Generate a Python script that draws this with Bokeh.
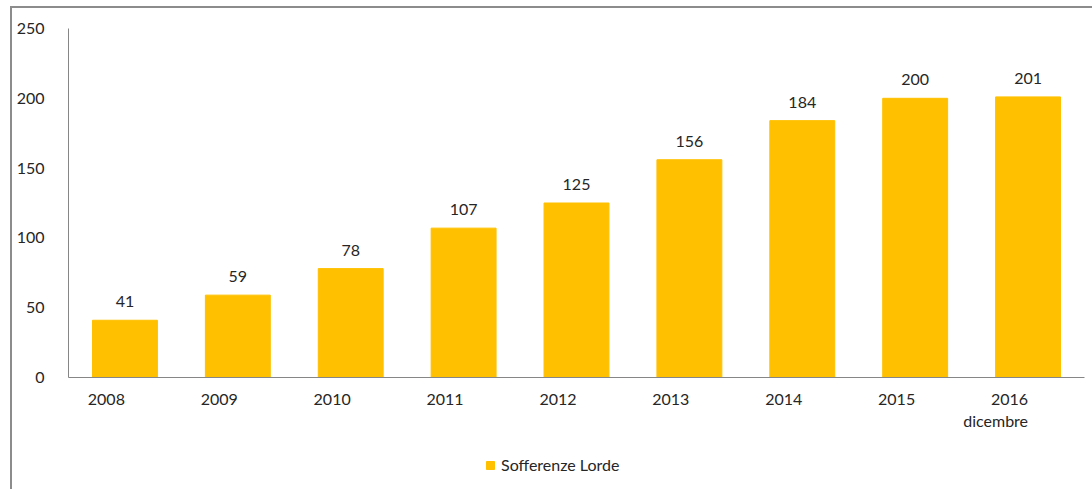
from bokeh.plotting import figure
from bokeh.layouts import column
from bokeh.models import ColumnDataSource, Legend, LegendItem, FixedTicker, Range1d
from bokeh.core.properties import value
from bokeh.embed import file_html
from bokeh.resources import INLINE

years = ["2008", "2009", "2010", "2011", "2012", "2013", "2014", "2015", "2016\ndicembre"]
sofferenze = [41, 59, 78, 107, 125, 156, 184, 200, 201]
series_name = "Sofferenze Lorde"
y_ticks = [0, 50, 100, 150, 200, 250]

FONT = "Lato"
TXT = "#262626"
BAR = "#FFC000"
AX = "#868686"

# every category label made two lines so that first lines align
factors = [y if "\n" in y else y + "\n\u00a0" for y in years]

src = ColumnDataSource(dict(x=factors, y=sofferenze, lbl=[str(v) for v in sofferenze]))

chart = figure(x_range=factors, y_range=Range1d(0, 250), width=1082, height=447,
               output_backend="svg", toolbar_location=None,
               min_border_left=56, min_border_right=10, min_border_top=20, min_border_bottom=78)

chart.vbar(x="x", top="y", width=0.575, color=BAR, source=src)
chart.text(x="x", y="y", text="lbl", source=src, text_align="center", text_baseline="bottom",
           y_offset=-13, text_font=value(FONT), text_font_size="16px", text_color=TXT)

chart.outline_line_color = None
chart.grid.grid_line_color = None
chart.x_range.range_padding = 0

chart.yaxis.ticker = FixedTicker(ticks=y_ticks)
for ax in (chart.xaxis[0], chart.yaxis[0]):
    ax.axis_line_color = AX
    ax.axis_line_width = 1
    ax.major_tick_line_color = None
    ax.minor_tick_line_color = None
    ax.major_label_text_font = FONT
    ax.major_label_text_font_size = "16px"
    ax.major_label_text_color = TXT
chart.yaxis.major_label_standoff = 18
chart.xaxis.major_label_standoff = 26
chart.xaxis.major_label_orientation = 0
chart.xaxis.major_label_text_baseline = "top"

# legend strip (its renderer is hidden; only the legend shows)
leg = figure(x_range=factors, y_range=Range1d(-200, -100), width=1082, height=34,
             output_backend="svg", toolbar_location=None,
             min_border_left=0, min_border_right=0, min_border_top=0, min_border_bottom=0)
leg.axis.visible = False
leg.grid.grid_line_color = None
leg.outline_line_color = None
lr = leg.vbar(x="x", top="y", width=0.575, color=BAR, source=src)
lr.visible = False
legend = Legend(items=[LegendItem(label=series_name, renderers=[lr])],
                orientation="horizontal", location=(417, 15),
                label_text_font=FONT, label_text_font_size="16px", label_text_color=TXT,
                glyph_width=10, glyph_height=10, label_standoff=6,
                border_line_color=None, background_fill_alpha=0,
                margin=0, padding=0)
leg.add_layout(legend, "center")

p = column(chart, leg, spacing=0)
p.margin = (6, 0, 0, 10)
p.styles = {"border-top": "2px solid #8c8c8c", "border-left": "2px solid #8c8c8c"}

open("out.html", "w").write(file_html(p, INLINE))
